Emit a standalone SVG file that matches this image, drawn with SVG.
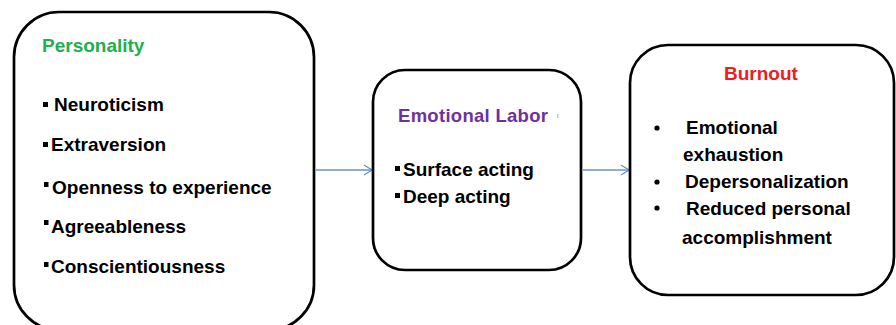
<svg xmlns="http://www.w3.org/2000/svg" width="896" height="325" viewBox="0 0 896 325">
<defs>
<style>
.box{fill:#fff;stroke:#000;stroke-width:2.7}
.t{font-family:"Liberation Sans",Arial,sans-serif;font-weight:bold;font-size:19px;fill:#000}
.conn{stroke:#6a93c8;stroke-width:1.3;fill:none}
.sq{fill:#000}
</style>
<marker id="ah" viewBox="0 0 10 12" refX="9" refY="6" markerWidth="10" markerHeight="12" markerUnits="userSpaceOnUse" orient="auto">
<path d="M1,1 L9,6 L1,11" fill="none" stroke="#6a93c8" stroke-width="1.3"/>
</marker>
</defs>
<rect width="896" height="325" fill="#fff"/>
<g id="connectors">
<line class="conn" x1="316" y1="170" x2="372" y2="170" marker-end="url(#ah)"/>
<line class="conn" x1="583" y1="170" x2="629" y2="170" marker-end="url(#ah)"/>
</g>
<g id="personality">
<rect class="box" x="14" y="12" width="300" height="318" rx="45" ry="45"/>
<text class="t" x="42" y="52" style="fill:#1fb04c">Personality</text>
<rect class="sq" x="43" y="102" width="5" height="5"/>
<text class="t" x="54" y="111">Neuroticism</text>
<rect class="sq" x="43" y="142" width="5" height="5"/>
<text class="t" x="51" y="151">Extraversion</text>
<rect class="sq" x="44" y="182" width="4.5" height="5"/>
<text class="t" x="52" y="194">Openness to experience</text>
<rect class="sq" x="44" y="220" width="4.5" height="5"/>
<text class="t" x="51" y="233">Agreeableness</text>
<rect class="sq" x="44" y="262" width="4.5" height="5"/>
<text class="t" x="51" y="273">Conscientiousness</text>
</g>
<g id="emotional-labor">
<rect class="box" x="373" y="70" width="208" height="200" rx="32" ry="32"/>
<text class="t" x="398" y="122" textLength="150" style="fill:#7030a0;font-size:18.5px">Emotional Labor</text>
<rect x="557" y="114" width="1.5" height="4" fill="#c8c0d8"/>
<rect class="sq" x="395" y="166" width="5" height="5"/>
<text class="t" x="403" y="176">Surface acting</text>
<rect class="sq" x="395" y="193" width="5" height="5"/>
<text class="t" x="403" y="203">Deep acting</text>
</g>
<g id="burnout">
<rect class="box" x="630" y="45" width="264" height="250" rx="38" ry="38"/>
<text class="t" x="724" y="80" style="fill:#ee1c1c">Burnout</text>
<circle cx="657" cy="128" r="2.6"/>
<text class="t" x="686" y="134">Emotional</text>
<text class="t" x="683" y="161">exhaustion</text>
<circle cx="657" cy="182" r="2.6"/>
<text class="t" x="685" y="188">Depersonalization</text>
<circle cx="657" cy="208" r="2.6"/>
<text class="t" x="686" y="215">Reduced personal</text>
<text class="t" x="682" y="244">accomplishment</text>
</g>
</svg>
